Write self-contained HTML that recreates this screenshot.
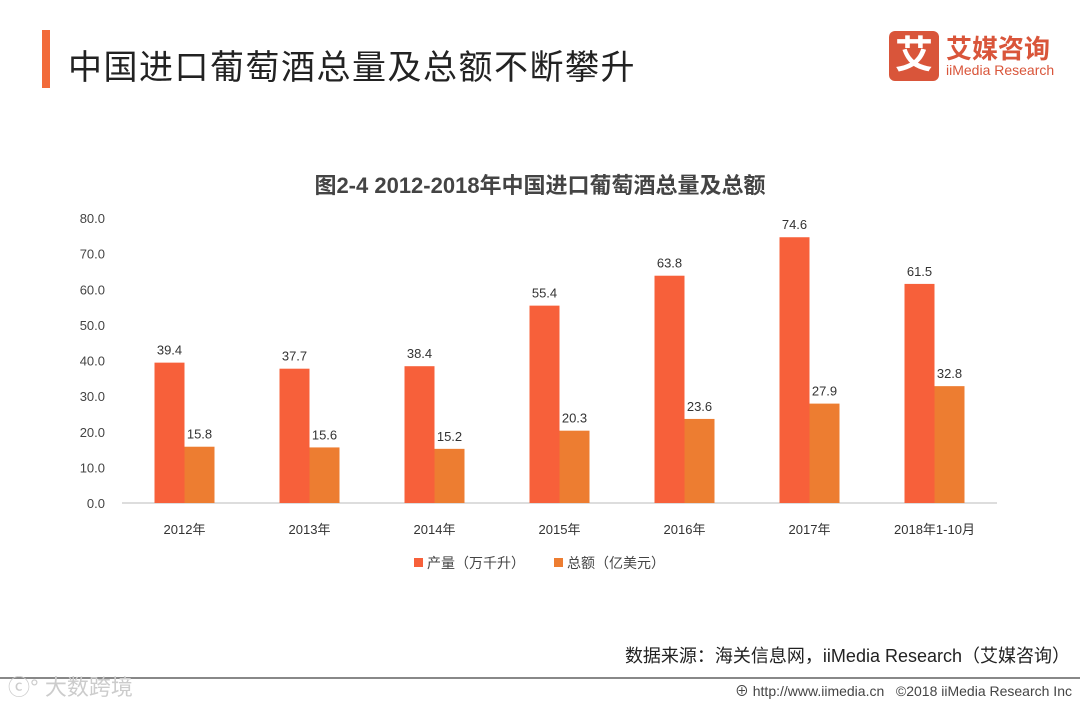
<!DOCTYPE html>
<html><head><meta charset="utf-8"><style>
body{margin:0;width:1080px;height:702px;background:#fff;position:relative;overflow:hidden;font-family:"Liberation Sans","Noto Sans CJK SC",sans-serif}
.abs{position:absolute}
</style></head><body>
<div class="abs" style="left:42px;top:30px;width:8px;height:58px;background:#F26B3A"></div>
<div class="abs" style="left:68px;top:40px;font-size:34px;color:#222;letter-spacing:1.5px">中国进口葡萄酒总量及总额不断攀升</div>
<div class="abs" style="left:889px;top:31px;width:170px;height:50px">
 <div class="abs" style="left:0;top:0;width:50px;height:50px;background:#D9553A;border-radius:6px;color:#fff;font-size:38px;font-weight:bold;text-align:center;line-height:50px">艾</div>
 <div class="abs" style="left:57px;top:-2px;font-size:26px;font-weight:bold;color:#D9553A;white-space:nowrap">艾媒咨询</div>
 <div class="abs" style="left:57px;top:31px;font-size:14px;color:#D9553A;white-space:nowrap">iiMedia Research</div>
</div>
<div class="abs" style="left:0;width:1080px;top:168px;text-align:center;font-size:22px;font-weight:bold;color:#444">图2-4 2012-2018年中国进口葡萄酒总量及总额</div>
<svg class="abs" style="left:0;top:0" width="1080" height="702" id="chart"></svg>
<div class="abs" style="right:10px;top:642px;font-size:18px;color:#222">数据来源：海关信息网，iiMedia Research（艾媒咨询）</div>
<div class="abs" style="left:0;top:677px;width:1080px;height:2px;background:#888"></div>
<div class="abs" style="left:8px;top:670px;font-size:22px;color:#ccc">ⓒ° 大数跨境</div>
<div class="abs" style="right:8px;top:681px;font-size:14px;color:#444">⊕ http://www.iimedia.cn &nbsp; ©2018 iiMedia Research Inc</div>
<script>
const categories=["2012年","2013年","2014年","2015年","2016年","2017年","2018年1-10月"];
const volume=[39.4,37.7,38.4,55.4,63.8,74.6,61.5];
const amount=[15.8,15.6,15.2,20.3,23.6,27.9,32.8];
const yTicks=[0,10,20,30,40,50,60,70,80];
const seriesNames=["产量（万千升）","总额（亿美元）"];
const svg=document.getElementById('chart');const NS='http://www.w3.org/2000/svg';
const x0=122,x1=997,yB=503,yT=218,yMax=80;
const y=v=>yB-(v/yMax)*(yB-yT);
const step=(x1-x0)/categories.length;
const xc=i=>x0+step*(i+0.5);
function mk(t,a,txt){const e=document.createElementNS(NS,t);for(const k in a)e.setAttribute(k,a[k]);if(txt!=null)e.textContent=txt;svg.appendChild(e);return e;}
yTicks.forEach(t=>{const e=mk('text',{x:105,y:y(t)+5,'text-anchor':'end','font-size':13,fill:'#444'},t.toFixed(1));

});
const ax=mk('line',{x1:x0,x2:x1,y1:yB,y2:yB,stroke:'#bbb'});


const bw=30,cols=['#F7603A','#ED7D31'];
categories.forEach((c,i)=>{
 [volume,amount].forEach((s,j)=>{const bx=xc(i)-bw+j*bw;
  const r=mk('rect',{x:bx,y:y(s[i]),width:bw,height:yB-y(s[i]),fill:cols[j]});
  
  
  const l=mk('text',{x:bx+bw/2,y:y(s[i])-8,'text-anchor':'middle','font-size':13,fill:'#333'},s[i].toFixed(1));
  
  });
 const t=mk('text',{x:xc(i),y:534,'text-anchor':'middle','font-size':13,fill:'#333'},c);
 
 
});
seriesNames.forEach((n,j)=>{const lx=414+j*140;
 const r=mk('rect',{x:lx,y:558,width:9,height:9,fill:cols[j]});
 
 
 const t=mk('text',{x:lx+13,y:568,'font-size':14,fill:'#444'},n);
 
 });
</script>
</body></html>
